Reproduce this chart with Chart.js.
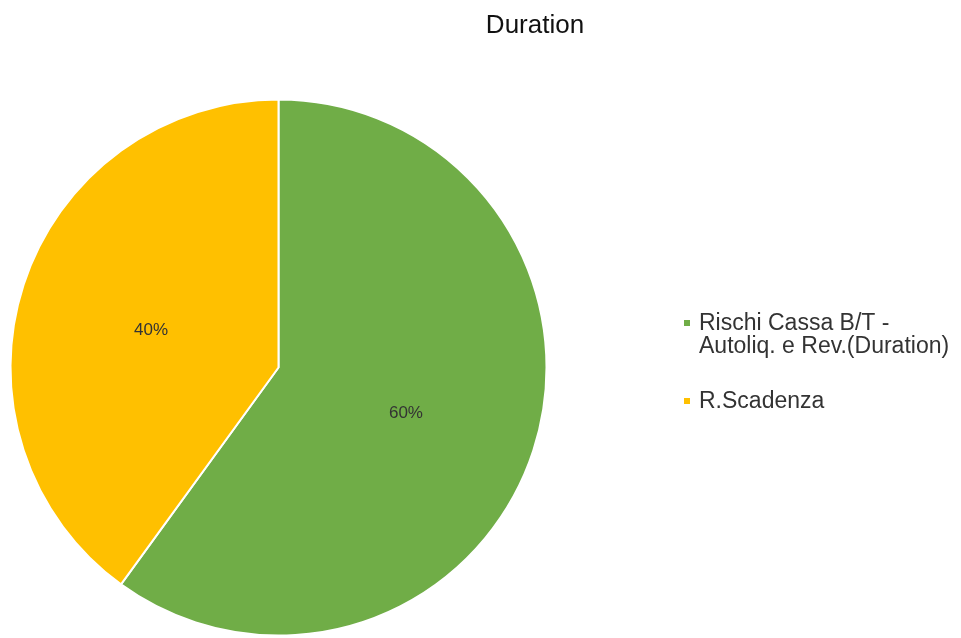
<!DOCTYPE html>
<html>
<head>
<meta charset="utf-8">
<script src="https://cdn.jsdelivr.net/npm/chart.js@4.4.1/dist/chart.umd.min.js"></script>
<style>
  html, body { margin: 0; padding: 0; background: #fff; }
  #wrap { width: 961px; height: 638px; position: relative; }
</style>
</head>
<body>
<div id="wrap"><canvas id="durationPie"></canvas></div>
<script>
const chartTitle = "Duration";
const categories = [
  ["Rischi Cassa B/T -", "Autoliq. e Rev.(Duration)"],
  ["R.Scadenza"],
];
const shares = [60, 40];
const sliceColors = ["#70AD47", "#FFC000"];

const FONT = "'Liberation Sans', Arial, sans-serif";

// title, legend and % labels drawn by hand to get the Excel look
const excelBits = {
  id: "excelBits",
  afterDraw(chart) {
    const c = chart.ctx;
    c.save();

    c.fillStyle = "#111";
    c.font = "26px " + FONT;
    c.textAlign = "center";
    c.textBaseline = "alphabetic";
    c.fillText(chartTitle, 535, 33);

    // percent labels at mid radius of each slice
    const meta = chart.getDatasetMeta(0);
    const total = shares.reduce((a, b) => a + b, 0);
    c.font = "17px " + FONT;
    c.fillStyle = "#333";
    c.textBaseline = "middle";
    meta.data.forEach((arc, i) => {
      const p = arc.tooltipPosition();
      c.fillText(Math.round((shares[i] / total) * 100) + "%", p.x, p.y + 4);
    });

    // legend on the right
    c.textAlign = "left";
    c.textBaseline = "alphabetic";
    c.font = "23px " + FONT;
    let y = 330;
    categories.forEach((lines, i) => {
      c.fillStyle = sliceColors[i];
      c.fillRect(684, y - 10, 6, 6);
      c.fillStyle = "#333";
      lines.forEach((t, j) => {
        c.fillText(t, 699, y + j * 23);
      });
      y += lines.length * 23 + 32;
    });

    c.restore();
  },
};

new Chart(document.getElementById("durationPie"), {
  type: "pie",
  data: {
    labels: categories,
    datasets: [
      {
        data: shares,
        backgroundColor: sliceColors,
        borderColor: "#fff",
        borderWidth: 2,
        radius: 268,
      },
    ],
  },
  options: {
    responsive: true,
    maintainAspectRatio: false,
    animation: false,
    layout: { padding: { left: 10, top: 99, right: 414, bottom: 2 } },
    plugins: {
      legend: { display: false },
      title: { display: false },
      tooltip: { enabled: false },
    },
  },
  plugins: [excelBits],
});
</script>
</body>
</html>
